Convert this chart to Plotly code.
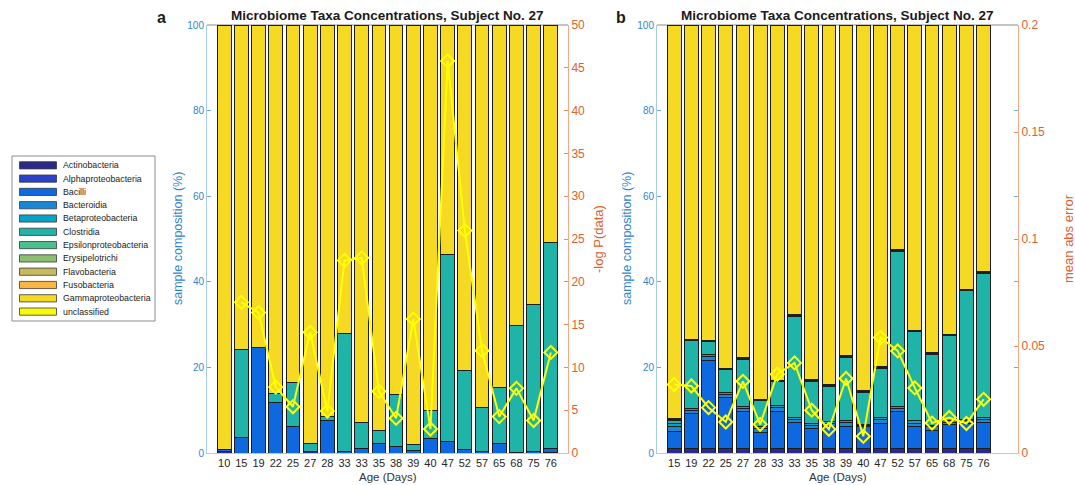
import plotly.graph_objects as go

W, H = 1075, 485

# ---- taxa and their colours (parula-like palette) ----
TAXA = ["Actinobacteria", "Alphaproteobacteria", "Bacilli", "Bacteroidia",
        "Betaproteobacteria", "Clostridia", "Epsilonproteobacteria",
        "Erysipelotrichi", "Flavobacteria", "Fusobacteria",
        "Gammaproteobacteria", "unclassified"]
COLORS = ["#2c2a88", "#2a41c9", "#0e69e1", "#1688d6", "#06a3c9", "#20b3a8",
          "#48bf8c", "#8dc06e", "#c7b95e", "#f8b53f", "#f5d923", "#f9f90f"]

# ---- panel a: observed composition (%) and -log P(data) ----
AGES_A = ["10", "15", "19", "22", "25", "27", "28", "33", "33", "35",
          "38", "39", "40", "47", "52", "57", "65", "68", "75", "76"]
A_ACTINO = [0.3, 0, 0, 0, 0, 0.3, 0, 0, 0, 0, 0, 0, 0, 0, 0, 0, 0, 0, 0, 0.2]
A_BACILLI = [0.5, 3.7, 24.6, 11.8, 6.2, 0, 7.6, 0.3, 1.1, 2.3,
             1.5, 0.5, 3.3, 2.6, 0.9, 0.3, 2.3, 0.2, 0.4, 0.8]
A_CLOSTRIDIA = [0, 20.5, 0, 2.1, 10.3, 2.0, 0.9, 27.7, 6.0, 2.9,
                12.2, 1.5, 6.7, 43.7, 18.3, 10.4, 13.0, 29.5, 34.2, 48.3]
A_GAMMA = [99.2, 75.8, 75.4, 86.1, 83.5, 97.7, 91.5, 72.0, 92.9, 94.8,
           86.3, 98.0, 90.0, 53.7, 80.8, 89.3, 84.7, 70.3, 65.4, 50.7]
A_NEG_LOG_P = [None, 17.6, 16.4, 7.7, 5.4, 14.1, 4.9, 22.5, 22.8, 7.2,
               4.05, 15.65, 2.8, 45.8, 26.0, 11.95, 4.25, 7.55, 3.8, 11.75]

# ---- panel b: model composition (%) and mean absolute error ----
AGES_B = ["15", "19", "22", "25", "27", "28", "33", "33", "35", "38",
          "39", "40", "47", "52", "57", "65", "68", "75", "76"]
B_ACTINO = [1.0, 1.0, 1.0, 1.0, 1.0, 1.0, 1.0, 1.0, 1.0, 1.0,
            1.0, 1.0, 1.0, 1.0, 1.0, 1.0, 1.0, 1.0, 1.0]
B_ALPHA = [0.1, 0.1, 0.1, 0.1, 0.1, 0.1, 0.1, 0.1, 0.1, 0.1,
           0.1, 0.1, 0.1, 0.1, 0.1, 0.1, 0.1, 0.1, 0.1]
B_BACILLI = [3.9, 8.1, 20.6, 11.9, 8.5, 3.8, 8.5, 6.0, 4.6, 5.2,
             5.2, 5.0, 5.9, 8.5, 5.1, 4.2, 5.6, 5.7, 6.0]
B_BACTEROIDIA = [1.2, 0.8, 0.8, 0.7, 0.8, 0.9, 1.0, 0.8, 0.8, 0.7,
                 0.8, 0.3, 0.9, 0.8, 0.8, 0.8, 0.5, 0.7, 0.8]
B_BETA = [0.7, 0.4, 0.4, 0.4, 0.5, 0.5, 0.5, 0.5, 0.5, 0.4,
          0.5, 0.2, 0.5, 0.5, 0.5, 0.4, 0.3, 0.4, 0.5]
B_CLOSTRIDIA = [0.8, 15.8, 3.1, 5.3, 11.0, 5.9, 5.5, 23.6, 9.8, 8.2,
                14.7, 7.5, 11.4, 36.2, 20.8, 16.6, 19.9, 30.0, 33.6]
B_EPSILON = [0.2, 0.2, 0.2, 0.2, 0.2, 0.2, 0.2, 0.2, 0.2, 0.2,
             0.2, 0.2, 0.2, 0.2, 0.2, 0.2, 0.2, 0.2, 0.2]
B_ERYSIPELO = [0.2, 0.2, 0.2, 0.2, 0.2, 0.2, 0.2, 0.2, 0.2, 0.2,
               0.2, 0.2, 0.2, 0.2, 0.2, 0.2, 0.2, 0.2, 0.2]
B_GAMMA = [91.9, 73.4, 73.6, 80.2, 77.7, 87.4, 83.0, 67.6, 82.8, 84.0,
           77.3, 85.5, 79.8, 52.5, 71.3, 76.5, 72.2, 61.7, 57.6]
B_MAE = [0.032, 0.0313, 0.0212, 0.0145, 0.0335, 0.0134, 0.0368, 0.0421,
         0.020, 0.0111, 0.0348, 0.0078, 0.054, 0.0477, 0.0304, 0.014,
         0.0166, 0.0138, 0.0251]

PANEL_A = {"Actinobacteria": A_ACTINO, "Bacilli": A_BACILLI,
           "Clostridia": A_CLOSTRIDIA, "Gammaproteobacteria": A_GAMMA}
PANEL_B = {"Actinobacteria": B_ACTINO, "Alphaproteobacteria": B_ALPHA,
           "Bacilli": B_BACILLI, "Bacteroidia": B_BACTEROIDIA,
           "Betaproteobacteria": B_BETA, "Clostridia": B_CLOSTRIDIA,
           "Epsilonproteobacteria": B_EPSILON, "Erysipelotrichi": B_ERYSIPELO,
           "Gammaproteobacteria": B_GAMMA}

FONT = "Liberation Sans, Arial, Helvetica, sans-serif"
BLUE = "#2f86cc"
BLUE_LINE = "#a6cdee"
ORANGE = "#e0602f"
ORANGE_LINE = "#f2aa8a"
LINE_YELLOW = "#ffff00"

# plot-area geometry in pixels
TOP, BOTTOM = 25, 453
A_LEFT, A_RIGHT = 207, 568
B_LEFT, B_RIGHT = 657, 1018


def px(x):
    return x / W


def py(y):
    return 1 - y / H


fig = go.Figure()


def add_stack(series, ages, xa, ya):
    pos = list(range(1, len(ages) + 1))
    for name, color in zip(TAXA, COLORS):
        if name not in series:
            continue
        fig.add_trace(go.Bar(
            x=pos, y=series[name], name=name, width=0.8,
            marker=dict(color=color, line=dict(color="#1e1e1e", width=1)),
            xaxis=xa, yaxis=ya, showlegend=False))


add_stack(PANEL_A, AGES_A, "x", "y")
add_stack(PANEL_B, AGES_B, "x2", "y3")

line_style = dict(color=LINE_YELLOW, width=2)
marker_style = dict(symbol="diamond-open", size=10, color=LINE_YELLOW,
                    line=dict(color=LINE_YELLOW, width=2))
fig.add_trace(go.Scatter(x=list(range(1, len(AGES_A) + 1)), y=A_NEG_LOG_P,
                         mode="lines+markers", line=line_style,
                         marker=marker_style, xaxis="x", yaxis="y2",
                         showlegend=False))
fig.add_trace(go.Scatter(x=list(range(1, len(AGES_B) + 1)), y=B_MAE,
                         mode="lines+markers", line=line_style,
                         marker=marker_style, xaxis="x2", yaxis="y4",
                         showlegend=False))

ydom = [py(BOTTOM), py(TOP)]


def xaxis_cfg(left, right, ages, anchor):
    return dict(domain=[px(left), px(right)], range=[0, 21], anchor=anchor,
                tickvals=list(range(1, len(ages) + 1)), ticktext=ages,
                showline=True, linecolor=BLUE_LINE, linewidth=1,
                ticks="", showgrid=False, zeroline=False, automargin=False,
                tickfont=dict(family=FONT, size=11, color="#262626"))


def left_cfg(anchor):
    return dict(domain=ydom, range=[0, 100], anchor=anchor,
                tickvals=[0, 20, 40, 60, 80, 100],
                showline=True, linecolor=BLUE_LINE, linewidth=1,
                mirror="ticks", ticks="inside", ticklen=4,
                tickcolor="#6aa9dc", showgrid=False, zeroline=False,
                automargin=False,
                tickfont=dict(family=FONT, size=10, color=BLUE))


def right_cfg(anchor, overlay, rng, vals, texts):
    return dict(domain=ydom, range=rng, anchor=anchor, overlaying=overlay,
                side="right", tickvals=vals, ticktext=texts,
                showline=True, linecolor=ORANGE_LINE, linewidth=1,
                ticks="inside", ticklen=4, tickcolor="#eb8a63",
                showgrid=False, zeroline=False, automargin=False,
                tickfont=dict(family=FONT, size=12, color=ORANGE))


a_right_vals = [0, 5, 10, 15, 20, 25, 30, 35, 40, 45, 50]
b_right_vals = [0, 0.05, 0.1, 0.15, 0.2]

fig.update_layout(
    width=W, height=H, autosize=False,
    margin=dict(l=0, r=0, t=0, b=0, pad=0, autoexpand=False),
    paper_bgcolor="white", plot_bgcolor="rgba(0,0,0,0)",
    barmode="stack", bargap=0.2,
    font=dict(family=FONT),
    xaxis=xaxis_cfg(A_LEFT, A_RIGHT, AGES_A, "y"),
    yaxis=left_cfg("x"),
    yaxis2=right_cfg("x", "y", [0, 50], a_right_vals,
                     [str(v) for v in a_right_vals]),
    xaxis2=xaxis_cfg(B_LEFT, B_RIGHT, AGES_B, "y3"),
    yaxis3=left_cfg("x2"),
    yaxis4=right_cfg("x2", "y3", [0, 0.2], b_right_vals,
                     ["0", "0.05", "0.1", "0.15", "0.2"]),
)

shapes = []
annotations = []

# top border of each box
for left, right in [(A_LEFT, A_RIGHT), (B_LEFT, B_RIGHT)]:
    shapes.append(dict(type="line", xref="paper", yref="paper",
                       x0=px(left), x1=px(right), y0=py(TOP), y1=py(TOP),
                       line=dict(color="#8a8a8a", width=1), layer="below"))


def text(x, y, s, size, color, bold=False, angle=0, xanchor="center"):
    annotations.append(dict(
        x=px(x), y=py(y), xref="paper", yref="paper", text=s,
        showarrow=False, xanchor=xanchor, yanchor="middle", textangle=angle,
        font=dict(family=FONT, size=size, color=color,
                  weight="bold" if bold else "normal")))


TITLE = "Microbiome Taxa Concentrations, Subject No. 27"
for left, right, letter, lx, ylab_x, rlab_x, rlab in [
        (A_LEFT, A_RIGHT, "a", 161, 178, 598, "-log P(data)"),
        (B_LEFT, B_RIGHT, "b", 621, 627, 1068, "mean abs error")]:
    mid = (left + right) / 2
    text(mid, 16, TITLE, 13.5, "#1a1a1a", bold=True)
    text(lx, 18, letter, 16, "#1a1a1a", bold=True)
    text(mid, 477, "Age (Days)", 11.5, "#333333")
    text(ylab_x, (TOP + BOTTOM) / 2, "sample composition (%)", 12.5, BLUE,
         angle=-90)
    text(rlab_x, (TOP + BOTTOM) / 2, rlab, 13, ORANGE, angle=-90)

# legend box drawn from the taxa list
LEG_L, LEG_T, LEG_R, LEG_B = 12, 156, 155, 321
shapes.append(dict(type="rect", xref="paper", yref="paper",
                   x0=px(LEG_L), x1=px(LEG_R), y0=py(LEG_B), y1=py(LEG_T),
                   line=dict(color="#8c8c8c", width=1), fillcolor="white"))
row0, pitch = 165.3, 13.3
for i, (name, color) in enumerate(zip(TAXA, COLORS)):
    cy = row0 + i * pitch
    shapes.append(dict(type="rect", xref="paper", yref="paper",
                       x0=px(19.5), x1=px(56.5), y0=py(cy + 3.6),
                       y1=py(cy - 3.6), fillcolor=color,
                       line=dict(color="#3a3a3a", width=0.8)))
    text(61, cy, name, 8.8, "#222222", xanchor="left")

fig.update_layout(shapes=shapes, annotations=annotations)

fig.write_html("out.html")
